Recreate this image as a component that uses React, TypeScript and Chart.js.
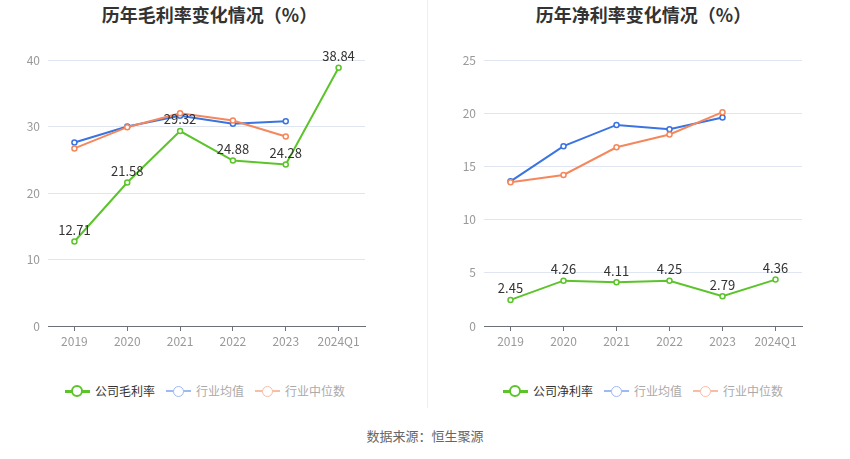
import React, { useEffect, useRef } from 'react';
import { Chart, registerables } from 'chart.js';

Chart.register(...registerables);

const years = ['2019', '2020', '2021', '2022', '2023', '2024Q1'];

const grossCompany = [12.71, 21.58, 29.32, 24.88, 24.28, 38.84];
const grossIndustryAvg = [27.6, 30.0, 31.6, 30.4, 30.8, null];
const grossIndustryMedian = [26.7, 29.9, 32.0, 30.9, 28.5, null];

const netCompany = [2.45, 4.26, 4.11, 4.25, 2.79, 4.36];
const netIndustryAvg = [13.6, 16.9, 18.9, 18.5, 19.6, null];
const netIndustryMedian = [13.5, 14.2, 16.8, 18.0, 20.1, null];

const FONT = '"Noto Sans CJK SC", "Noto Sans", sans-serif';
const GREEN = '#5bc42a';
const BLUE = '#3a73e2';
const ORANGE = '#f5875c';

// draws the company values above each point
const valueLabels = {
  id: 'valueLabels',
  afterDatasetsDraw(chart: Chart) {
    const ctx = chart.ctx;
    const meta = chart.getDatasetMeta(0);
    const values = chart.data.datasets[0].data as number[];
    ctx.save();
    ctx.font = `13px ${FONT}`;
    ctx.fillStyle = '#333';
    ctx.textAlign = 'center';
    ctx.textBaseline = 'bottom';
    meta.data.forEach((pt, i) => {
      ctx.fillText(values[i].toFixed(2), pt.x, pt.y - 5);
    });
    ctx.restore();
  },
};

type LineChartProps = {
  title: string;
  names: string[];
  series: (number | null)[][];
  max: number;
  step: number;
  left: number;
  padLeft: number;
  padRight: number;
  titleShift: number;
  legendShift: number;
};

const colors = [GREEN, BLUE, ORANGE];
const paleColors = [GREEN, '#9fb9f4', '#f9bca4'];

const LineChart: React.FC<LineChartProps> = ({
  title,
  names,
  series,
  max,
  step,
  left,
  padLeft,
  padRight,
  titleShift,
  legendShift,
}) => {
  const canvasRef = useRef<HTMLCanvasElement>(null);
  const chartRef = useRef<Chart | null>(null);

  useEffect(() => {
    if (!canvasRef.current) return;
    const ctx = canvasRef.current.getContext('2d');
    if (!ctx) return;
    if (chartRef.current) chartRef.current.destroy();

    chartRef.current = new Chart(ctx, {
      type: 'line',
      data: {
        labels: years,
        datasets: series.map((s, i) => ({
          label: names[i],
          data: s,
          borderColor: colors[i],
          backgroundColor: '#fff',
          borderWidth: 2,
          pointRadius: 2.5,
          pointBorderWidth: 1.5,
          pointBackgroundColor: '#fff',
          pointBorderColor: colors[i],
          tension: 0,
          spanGaps: false,
          order: 3 - i,
        })),
      },
      options: {
        responsive: false,
        animation: false,
        layout: { padding: { left: padLeft, right: padRight, top: 60, bottom: 0 } },
        plugins: {
          legend: { display: false },
          tooltip: { enabled: false },
        },
        scales: {
          x: {
            offset: true,
            grid: { drawOnChartArea: false, drawTicks: true, tickLength: 5, color: '#6e7079', offset: false },
            border: { display: true, color: '#6e7079' },
            ticks: { color: '#999', font: { size: 12, family: FONT }, padding: 3 },
            afterFit: (s: any) => {
              s.height = 34;
            },
          },
          y: {
            min: 0,
            max,
            ticks: { stepSize: step, color: '#999', font: { size: 12, family: FONT }, padding: 8 },
            grid: { color: '#e0e6f1', drawTicks: false },
            border: { display: false },
            afterFit: (s: any) => {
              s.width = 38;
            },
          },
        },
      },
      plugins: [valueLabels],
    });

    return () => chartRef.current?.destroy();
  }, []);

  return (
    <div style={{ position: 'absolute', left, top: 0, width: 425, height: 410 }}>
      <div
        style={{
          position: 'absolute',
          top: 2,
          left: 0,
          width: 425,
          textAlign: 'center',
          fontFamily: FONT,
          fontWeight: 'bold',
          fontSize: 18,
          color: '#333',
          lineHeight: '24px',
          transform: `translateX(${titleShift}px)`,
        }}
      >
        {title}
      </div>
      <canvas ref={canvasRef} width={425} height={360} style={{ position: 'absolute', left: 0, top: 0 }} />
      <div
        style={{
          position: 'absolute',
          top: 383,
          left: 0,
          width: 425,
          display: 'flex',
          justifyContent: 'center',
          fontFamily: FONT,
          fontSize: 12,
          transform: `translateX(${legendShift}px)`,
        }}
      >
        {names.map((n, i) => (
          <div key={n} style={{ display: 'flex', alignItems: 'center', marginRight: 11, height: 16 }}>
            <div style={{ position: 'relative', width: 25, height: 16, marginRight: 5 }}>
              <div
                style={{
                  position: 'absolute',
                  left: 0,
                  top: i === 0 ? 6.5 : 7,
                  width: 25,
                  height: i === 0 ? 3 : 2,
                  background: paleColors[i],
                }}
              />
              <div
                style={{
                  position: 'absolute',
                  left: 12.5 - (i === 0 ? 6 : 5.5),
                  top: 8 - (i === 0 ? 6 : 5.5),
                  width: i === 0 ? 12 : 11,
                  height: i === 0 ? 12 : 11,
                  boxSizing: 'border-box',
                  borderRadius: '50%',
                  border: `${i === 0 ? 2.5 : 1.5}px solid ${paleColors[i]}`,
                  background: '#fff',
                }}
              />
            </div>
            <span style={{ color: i === 0 ? '#333' : '#aaa', lineHeight: '16px' }}>{n}</span>
          </div>
        ))}
      </div>
    </div>
  );
};

export default function App() {
  return (
    <div style={{ position: 'absolute', left: 0, top: 0, width: 850, height: 459, background: '#fff', overflow: 'hidden' }}>
      <LineChart
        title="历年毛利率变化情况（%）"
        names={['公司毛利率', '行业均值', '行业中位数']}
        series={[grossCompany, grossIndustryAvg, grossIndustryMedian]}
        max={40}
        step={10}
        left={0}
        padLeft={10}
        padRight={60}
        titleShift={-3}
        legendShift={-2}
      />
      <div style={{ position: 'absolute', left: 427, top: 0, width: 1, height: 408, background: '#eee' }} />
      <LineChart
        title="历年净利率变化情况（%）"
        names={['公司净利率', '行业均值', '行业中位数']}
        series={[netCompany, netIndustryAvg, netIndustryMedian]}
        max={25}
        step={5}
        left={425}
        padLeft={21}
        padRight={48}
        titleShift={6}
        legendShift={11}
      />
      <div
        style={{
          position: 'absolute',
          top: 427,
          left: 0,
          width: 850,
          textAlign: 'center',
          fontFamily: FONT,
          fontSize: 13,
          color: '#666',
          lineHeight: '18px',
        }}
      >
        数据来源：恒生聚源
      </div>
    </div>
  );
}
